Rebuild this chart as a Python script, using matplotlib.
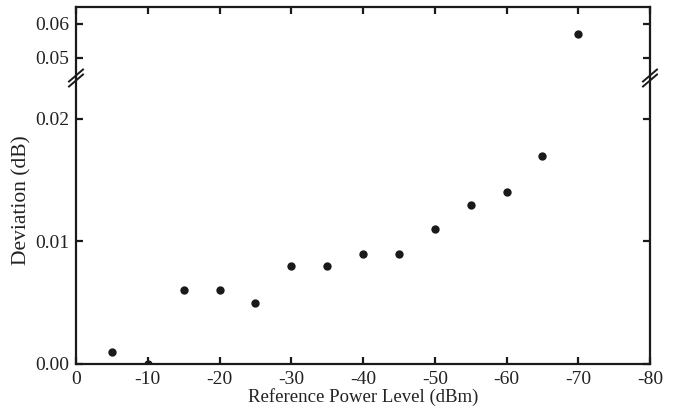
import matplotlib
matplotlib.use("Agg")
import matplotlib.pyplot as plt
from matplotlib.lines import Line2D

power = [-5, -10, -15, -20, -25, -30, -35, -40, -45, -50, -55, -60, -65, -70]
deviation = [0.001, 0.000, 0.006, 0.006, 0.005, 0.008, 0.008, 0.009, 0.009,
             0.011, 0.013, 0.014, 0.017, 0.057]
xticks = [0, -10, -20, -30, -40, -50, -60, -70, -80]
low_ticks = [0.00, 0.01, 0.02]
high_ticks = [0.05, 0.06]

plt.rcParams['font.family'] = ['Liberation Serif', 'DejaVu Serif']
fs = 14
W, H = 675, 409
fig = plt.figure(figsize=(W / 100, H / 100), dpi=100)

L, R, T, B, BRK = 76, 650, 7, 364, 78
ax_top = fig.add_axes([L / W, (H - BRK) / H, (R - L) / W, (BRK - T) / H])
ax_bot = fig.add_axes([L / W, (H - B) / H, (R - L) / W, (B - BRK) / H])

for ax in (ax_top, ax_bot):
    ax.scatter(power, deviation, s=36, color='#1a1a1a', zorder=3, linewidths=0)
    ax.set_xlim(0, -80)
    ax.set_xticks(xticks)
    for sp in ax.spines.values():
        sp.set_linewidth(1.6)
        sp.set_color('#1a1a1a')
    ax.tick_params(direction='in', length=5, width=1.6, color='#1a1a1a',
                   labelsize=fs, right=True, pad=5)
    for lab in ax.get_xticklabels() + ax.get_yticklabels():
        lab.set_color('#222222')

ax_bot.set_ylim(0, 0.02333)
ax_bot.set_yticks(low_ticks)
ax_bot.set_yticklabels(['0.00', '0.01', '0.02'])
ax_bot.spines['top'].set_visible(False)
ax_bot.tick_params(axis='x', top=False, bottom=True)
ax_bot.set_xticklabels([str(v) for v in xticks])

ax_top.set_ylim(0.0441, 0.065)
ax_top.set_yticks(high_ticks)
ax_top.set_yticklabels(['0.05', '0.06'])
ax_top.spines['bottom'].set_visible(False)
ax_top.tick_params(axis='x', top=True, bottom=False, labelbottom=False)

# break marks
for xp in (L, R):
    for dy in (-2.5, 2.5):
        x0, y0 = xp - 7, BRK + 6 + dy
        x1, y1 = xp + 7, BRK - 6 + dy
        fig.add_artist(Line2D([x0 / W, x1 / W], [(H - y0) / H, (H - y1) / H],
                              transform=fig.transFigure, color='#1a1a1a', lw=1.4))

fig.text(363 / W, (H - 397) / H, 'Reference Power Level (dBm)', ha='center', va='center',
         fontsize=13.5, color='#222222')
fig.text(22 / W, (H - 200) / H, 'Deviation (dB)', ha='center', va='center', rotation=90,
         fontsize=15.5, color='#222222')

fig.savefig('out.png', dpi=100)
